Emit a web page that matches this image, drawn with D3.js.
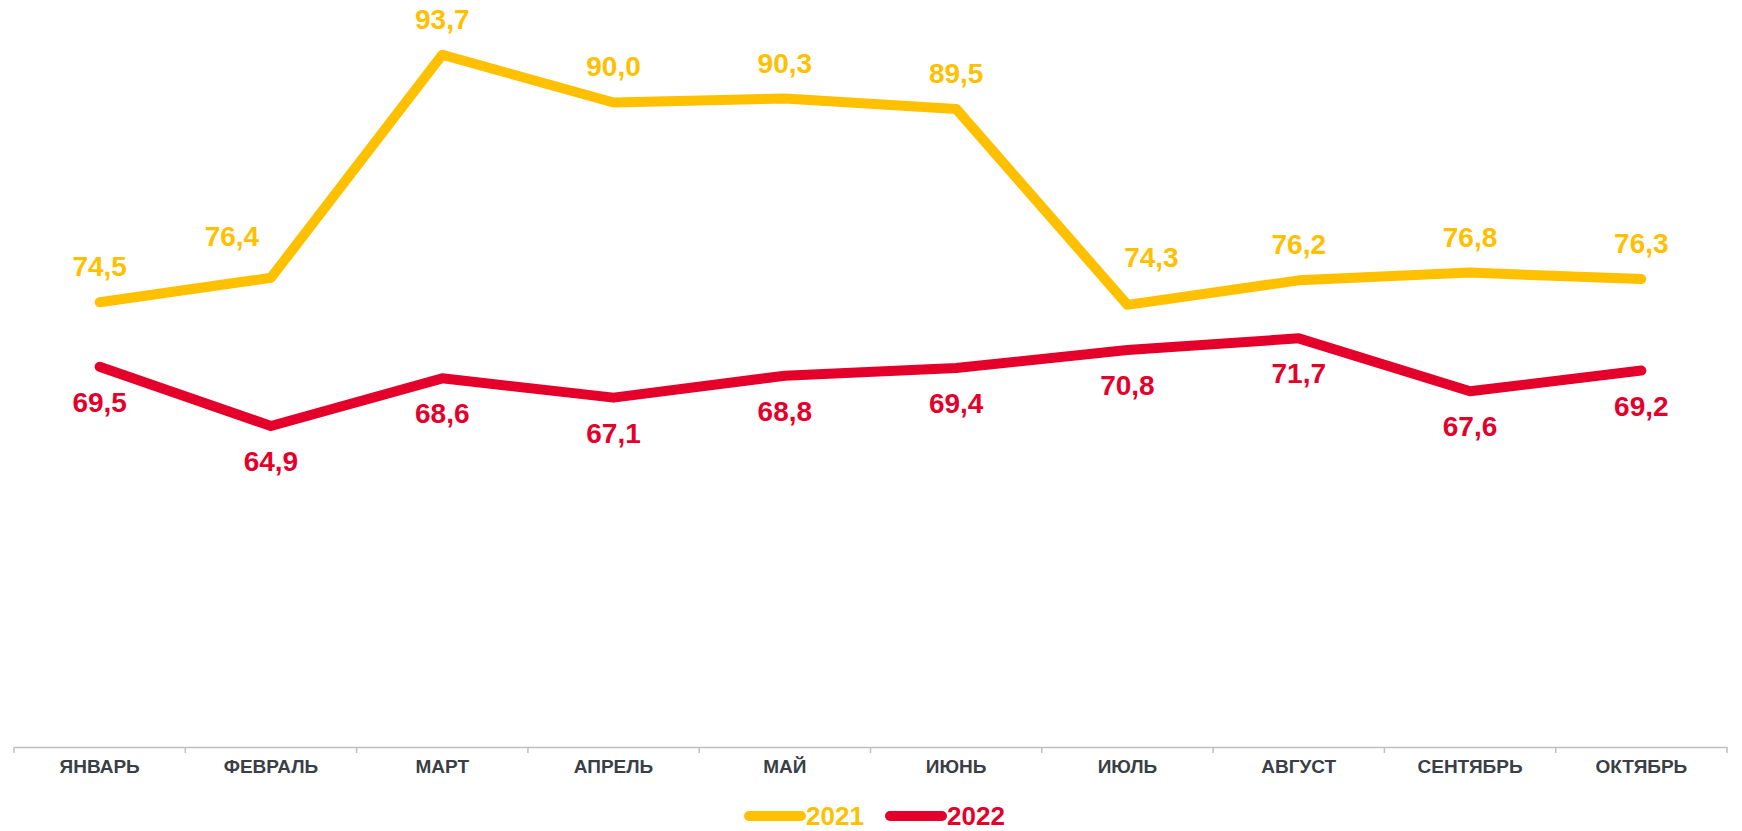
<!DOCTYPE html>
<html>
<head>
<meta charset="utf-8">
<script src="https://cdn.jsdelivr.net/npm/d3@7"></script>
<style>
  body { margin: 0; background: #fff; }
  text { font-family: "Liberation Sans", Arial, sans-serif; font-weight: bold; }
</style>
</head>
<body>
<div id="chart"></div>
<script>
// Data
var months = ['ЯНВАРЬ', 'ФЕВРАЛЬ', 'МАРТ', 'АПРЕЛЬ', 'МАЙ', 'ИЮНЬ', 'ИЮЛЬ', 'АВГУСТ', 'СЕНТЯБРЬ', 'ОКТЯБРЬ'];
var values2021 = [74.5, 76.4, 93.7, 90.0, 90.3, 89.5, 74.3, 76.2, 76.8, 76.3];
var values2022 = [69.5, 64.9, 68.6, 67.1, 68.8, 69.4, 70.8, 71.7, 67.6, 69.2];
var seriesNames = ['2021', '2022'];

var width = 1742,
    height = 831,
    margin = { left: 14, right: 15, top: 38, bottom: 84 };

var colors = { '2021': '#FFC000', '2022': '#E4002B' };

// a couple of labels sit off-centre so they don't touch the steep segments
var labelNudge = { '2021-1': [-39, -6], '2021-6': [24, -12] };

var chartHeight = height - margin.top - margin.bottom;
var chartWidth = width - margin.left - margin.right;

var svg = d3.select('#chart').append('svg')
    .attr('width', width)
    .attr('height', height);

var g = svg.append('g')
    .attr('transform', 'translate(' + margin.left + ',' + margin.top + ')');

var xScale = d3.scaleBand().domain(months).range([0, chartWidth]).padding(0);
var yScale = d3.scaleLinear().domain([40, 95]).range([chartHeight, 0]);

var fmt = function(v) { return d3.format('.1f')(v).replace('.', ','); };

// x axis: labels at band centres, ticks on band edges
var xAxis = d3.axisBottom(xScale).tickSize(0).tickPadding(13);
var axisG = g.append('g')
    .attr('class', 'axis x')
    .attr('transform', 'translate(0,' + chartHeight + ')')
    .call(xAxis);
axisG.select('.domain').attr('stroke', '#bfbfbf').attr('stroke-width', 1.5);
axisG.selectAll('text')
    .attr('fill', '#3a3f47')
    .style('font-size', '19px');

var edges = months.map(function(m) { return xScale(m); }).concat([chartWidth]);
axisG.selectAll('.edge').data(edges).enter().append('line')
    .attr('class', 'edge')
    .attr('x1', function(d) { return d; })
    .attr('x2', function(d) { return d; })
    .attr('y1', 0)
    .attr('y2', 6)
    .attr('stroke', '#bfbfbf')
    .attr('stroke-width', 1.5);

var cx = function(d, i) { return xScale(months[i]) + xScale.bandwidth() / 2; };

var line = d3.line()
    .x(function(d, i) { return cx(d, i); })
    .y(function(d) { return yScale(d); });

var series = [
    { name: '2021', values: values2021, dy: -26 },
    { name: '2022', values: values2022, dy: 45 }
];

series.forEach(function(s) {
    g.append('path')
        .datum(s.values)
        .attr('d', line)
        .attr('fill', 'none')
        .attr('stroke', colors[s.name])
        .attr('stroke-width', 10)
        .attr('stroke-linejoin', 'round')
        .attr('stroke-linecap', 'round');

    var nudge = function(i) { return labelNudge[s.name + '-' + i] || [0, 0]; };

    g.selectAll('.lbl-' + s.name).data(s.values).enter().append('text')
        .attr('class', 'lbl-' + s.name)
        .attr('x', function(d, i) { return cx(d, i) + nudge(i)[0]; })
        .attr('y', function(d, i) { return yScale(d) + s.dy + nudge(i)[1]; })
        .attr('text-anchor', 'middle')
        .attr('fill', colors[s.name])
        .style('font-size', '28px')
        .text(fmt);
});

// Legend
var legend = svg.append('g').attr('transform', 'translate(749,816)');
var legendItems = legend.selectAll('g').data(seriesNames).enter().append('g')
    .attr('transform', function(d, i) { return 'translate(' + (i * 141) + ',0)'; });
legendItems.append('line')
    .attr('x1', 0).attr('x2', 52)
    .attr('y1', 0).attr('y2', 0)
    .attr('stroke', function(d) { return colors[d]; })
    .attr('stroke-width', 10)
    .attr('stroke-linecap', 'round');
legendItems.append('text')
    .attr('x', 57)
    .attr('y', 9)
    .attr('fill', function(d) { return colors[d]; })
    .style('font-size', '26px')
    .text(function(d) { return d; });
</script>
</body>
</html>
